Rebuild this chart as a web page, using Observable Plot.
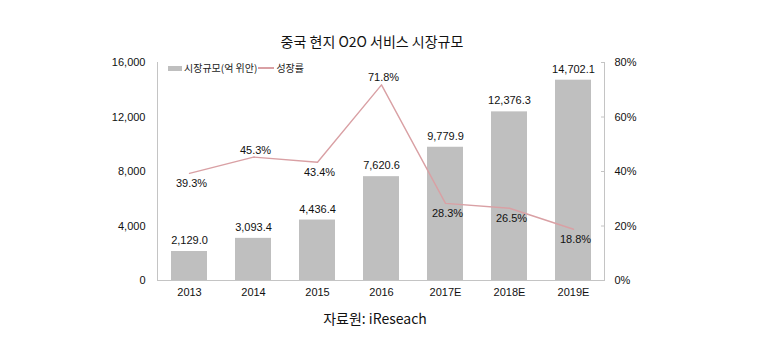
<!DOCTYPE html>
<html>
<head>
<meta charset="utf-8">
<script src="https://cdn.jsdelivr.net/npm/d3@7"></script>
<script src="https://cdn.jsdelivr.net/npm/@observablehq/plot@0.6"></script>
<style>
  html, body { margin: 0; padding: 0; background: #fff; }
  #wrap { position: relative; width: 762px; height: 343px; overflow: hidden; }
  .ov { position: absolute; white-space: nowrap; font-family: "Noto Sans CJK KR", "Noto Sans", sans-serif; color: #111; }
  #title { left: 372px; top: 32px; transform: translateX(-50%); font-size: 14px; line-height: 18px; }
  #caption { left: 375px; top: 309px; transform: translateX(-50%); font-size: 14px; line-height: 18px; }
  #legend { left: 168px; top: 61px; font-size: 10px; line-height: 14px; display: flex; align-items: center; color: #222; }
  .sw { display: inline-block; width: 14px; height: 5px; background: #bfbfbf; margin-right: 2px; }
  .ln { display: inline-block; width: 16px; height: 1.3px; background: #d9a0a4; margin: 0 2px 0 1px; }
  #chart { position: absolute; left: 0; top: 0; }
</style>
</head>
<body>
<div id="wrap">
  <div id="chart"></div>
  <div id="title" class="ov">중국 현지 O2O 서비스 시장규모</div>
  <div id="legend" class="ov"><span class="sw"></span>시장규모(억 위안)<span class="ln"></span>성장률</div>
  <div id="caption" class="ov">자료원: iReseach</div>
</div>
<script>
const years = ["2013", "2014", "2015", "2016", "2017E", "2018E", "2019E"];
const marketSize = [2129.0, 3093.4, 4436.4, 7620.6, 9779.9, 12376.3, 14702.1];
const growthRate = [39.3, 45.3, 43.4, 71.8, 28.3, 26.5, 18.8];
const leftTicks = [0, 4000, 8000, 12000, 16000];
const rightTicks = [0, 20, 40, 60, 80];

const leftMax = 16000, rightMax = 80;
const k = leftMax / rightMax;

const data = years.map((year, i) => ({
  year, size: marketSize[i], growth: growthRate[i],
  peak: i > 0 && i < years.length - 1 && growthRate[i] > growthRate[i - 1] && growthRate[i] > growthRate[i + 1]
}));

const lineColor = "#d9a0a4";
const axisColor = "#c4c4c4";

const chart = Plot.plot({
  width: 762,
  height: 343,
  marginTop: 62,
  marginBottom: 63,
  marginLeft: 157,
  marginRight: 158,
  style: { fontFamily: "'Liberation Sans', Arial, sans-serif", fontSize: "11px", color: "#111", background: "transparent" },
  x: { domain: years, paddingInner: 0.44, paddingOuter: 0.21 },
  y: { domain: [0, leftMax] },
  marks: [
    Plot.axisX({ tickSize: 0, tickPadding: 8, label: null, fill: "#111" }),
    Plot.axisY({ ticks: leftTicks, tickSize: 0, tickPadding: 12, tickFormat: d3.format(","), label: null, fill: "#111" }),
    Plot.axisY({ anchor: "right", ticks: rightTicks.map(v => v * k), tickSize: 4, dx: -4, tickFormat: () => "", label: null, stroke: axisColor }),
    Plot.axisY({ anchor: "right", ticks: rightTicks.map(v => v * k), tickSize: 0, tickPadding: 10, tickFormat: d => (d / k) + "%", label: null, fill: "#111" }),
    Plot.frame({ anchor: "left", stroke: axisColor }),
    Plot.frame({ anchor: "right", stroke: axisColor }),
    Plot.barY(data, { x: "year", y: "size", fill: "#bfbfbf" }),
    Plot.ruleY([0], { stroke: axisColor }),
    Plot.text(data, { x: "year", y: "size", text: d => d3.format(",.1f")(d.size), dy: -11, fill: "#111" }),
    Plot.line(data, { x: "year", y: d => d.growth * k, stroke: lineColor, strokeWidth: 1.4 }),
    Plot.text(data.filter(d => d.peak), { x: "year", y: d => d.growth * k, text: d => d.growth.toFixed(1) + "%", dy: -7, dx: 2, fill: "#111" }),
    Plot.text(data.filter(d => !d.peak), { x: "year", y: d => d.growth * k, text: d => d.growth.toFixed(1) + "%", dy: 10, dx: 2, fill: "#111" })
  ]
});
document.getElementById("chart").appendChild(chart);
</script>
</body>
</html>
